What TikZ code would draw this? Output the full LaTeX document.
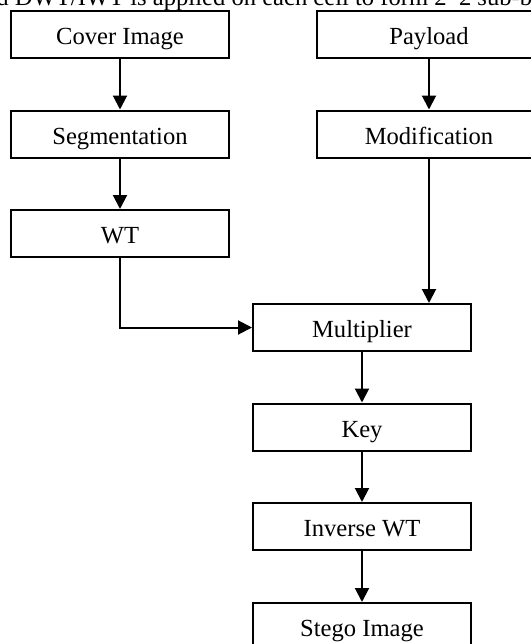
\documentclass[tikz,border=0pt]{standalone}
\usepackage{fontspec}
\setmainfont{Liberation Serif}
\usetikzlibrary{arrows.meta}
\begin{document}
\begin{tikzpicture}[x=0.75pt,y=-0.75pt,
  box/.style={draw,line width=1.5pt,inner sep=0pt,minimum width=163.5pt,minimum height=35.25pt,
    font=\fontsize{18.45}{22}\selectfont,text height=15.7pt,text depth=0.7pt},
  flow/.style={line width=1.5pt,-{Triangle[length=10.5pt,width=10.5pt]}}]
\useasboundingbox (0,0) rectangle (531,644);
\clip (0,0) rectangle (531,644);
\node[anchor=base west,inner sep=0pt,font=\fontsize{18.45}{22}\selectfont] (cap) at (-27,5.5) {and DWT/IWT is applied on each cell to form 2*2 sub-bands};
\node[box] (cover) at (120,34) {Cover Image};
\node[box,minimum width=168pt] (pay) at (429,34) {Payload};
\node[box] (seg) at (120,134) {Segmentation};
\node[box,minimum width=168pt] (mod) at (429,134) {Modification};
\node[box] (wt) at (120,233.5) {WT};
\node[box] (mult) at (362,327.5) {Multiplier};
\node[box] (key) at (362,427) {Key};
\node[box] (inv) at (362,526.5) {Inverse WT};
\node[box] (stego) at (362,626.5) {Stego Image};
\draw[flow] (cover) -- (seg);
\draw[flow] (pay) -- (mod);
\draw[flow] (seg) -- (wt);
\draw[flow] (wt.south) |- (mult.west);
\draw[flow] (mod.south) -- (mod.south |- mult.north);
\draw[flow] (mult) -- (key);
\draw[flow] (key) -- (inv);
\draw[flow] (inv) -- (stego);
\end{tikzpicture}
\end{document}
